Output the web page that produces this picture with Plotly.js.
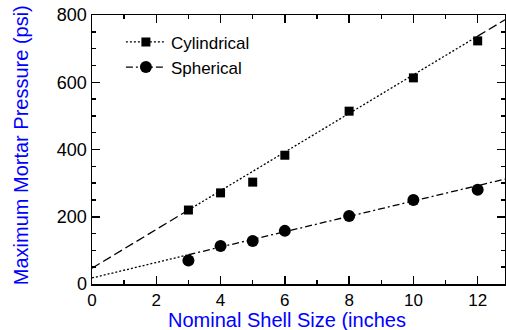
<!DOCTYPE html>
<html><head><meta charset="utf-8">
<script src="https://cdn.plot.ly/plotly-3.0.1.min.js"></script>
<style>body{margin:0;padding:0;background:#fff}#c{width:506px;height:330px}</style>
</head><body><div id="c"></div>
<script>
const shellSize = [3, 4, 5, 6, 8, 10, 12];
const cylindrical = [220, 271, 303, 383, 514, 613, 723];
const spherical = [70, 113, 128, 158, 202, 250, 280];
// fitted trend lines (extrapolated / fitted segments)
const cylFitLoX = [0, 3], cylFitLoY = [47, 220];
const cylFitMidX = [3, 12], cylFitMidY = [220, 737];
const cylFitHiX = [12, 12.85], cylFitHiY = [737, 786];
const sphFitLoX = [0, 3], sphFitLoY = [18, 87];
const sphFitHiX = [3, 12.85], sphFitHiY = [87, 312];
const seriesNames = ['Cylindrical', 'Spherical'];
const xTitle = 'Nominal Shell Size (inches';
const yTitle = 'Maximum Mortar Pressure (psi)';

const dotted = '2px,2px', longDash = '9px,4px', dashDot = '7px,3px,2px,3px';
const ln = (x, y, dash) => ({x, y, mode: 'lines', type: 'scatter', showlegend: false, hoverinfo: 'skip',
  line: {color: 'black', width: 1.3, dash}});

const data = [
  ln(cylFitLoX, cylFitLoY, longDash),
  ln(cylFitMidX, cylFitMidY, dotted),
  ln(cylFitHiX, cylFitHiY, longDash),
  ln(sphFitLoX, sphFitLoY, dotted),
  ln(sphFitHiX, sphFitHiY, dashDot),
  {x: shellSize, y: cylindrical, mode: 'markers', type: 'scatter', showlegend: false,
   marker: {symbol: 'square', size: 9, color: 'black'}},
  {x: shellSize, y: spherical, mode: 'markers', type: 'scatter', showlegend: false,
   marker: {symbol: 'circle', size: 12, color: 'black'}},
  {x: [null], y: [null], mode: 'lines+markers', type: 'scatter', name: seriesNames[0],
   line: {color: 'black', width: 1.3, dash: dotted}, marker: {symbol: 'square', size: 9, color: 'black'}},
  {x: [null], y: [null], mode: 'lines+markers', type: 'scatter', name: seriesNames[1],
   line: {color: 'black', width: 1.3, dash: dashDot}, marker: {symbol: 'circle', size: 12, color: 'black'}}
];

const axisCommon = {
  showgrid: false, zeroline: false, showline: true, linecolor: 'black', linewidth: 1.5,
  mirror: 'ticks', ticks: 'inside', ticklen: 8, tickwidth: 1.5, tickcolor: 'black',
  tickfont: {family: 'Liberation Sans, Arial, sans-serif', size: 18, color: 'black'}
};

const layout = {
  width: 506, height: 330,
  margin: {l: 92, r: 1, t: 15, b: 46},
  paper_bgcolor: 'white', plot_bgcolor: 'white',
  font: {family: 'Liberation Sans, Arial, sans-serif'},
  xaxis: Object.assign({}, axisCommon, {
    range: [0, 12.85], dtick: 2, tick0: 0,
    tickfont: {family: 'Liberation Sans, Arial, sans-serif', size: 17, color: 'black'},
    minor: {dtick: 1, ticks: 'inside', ticklen: 4, tickwidth: 1.5, tickcolor: 'black'}
  }),
  yaxis: Object.assign({}, axisCommon, {
    range: [0, 800], dtick: 200, tick0: 0,
    minor: {dtick: 50, ticks: 'inside', ticklen: 4, tickwidth: 1.5, tickcolor: 'black'}
  }),
  annotations: [
    {text: xTitle, xref: 'paper', yref: 'paper', x: 0.472, y: -0.132, xanchor: 'center', yanchor: 'middle',
     showarrow: false, font: {size: 20, color: '#0000ff'}},
    {text: yTitle, xref: 'paper', yref: 'paper', x: -0.170, y: 0.515, xanchor: 'center', yanchor: 'middle',
     textangle: -90, showarrow: false, font: {size: 20, color: '#0000ff'}}
  ],
  showlegend: true,
  legend: {x: 0.07, y: 0.965, xanchor: 'left', yanchor: 'top', bgcolor: 'rgba(0,0,0,0)',
    font: {size: 17, color: 'black'}, itemwidth: 40, tracegroupgap: 0}
};

Plotly.newPlot('c', data, layout, {displayModeBar: false, staticPlot: true});
</script></body></html>
